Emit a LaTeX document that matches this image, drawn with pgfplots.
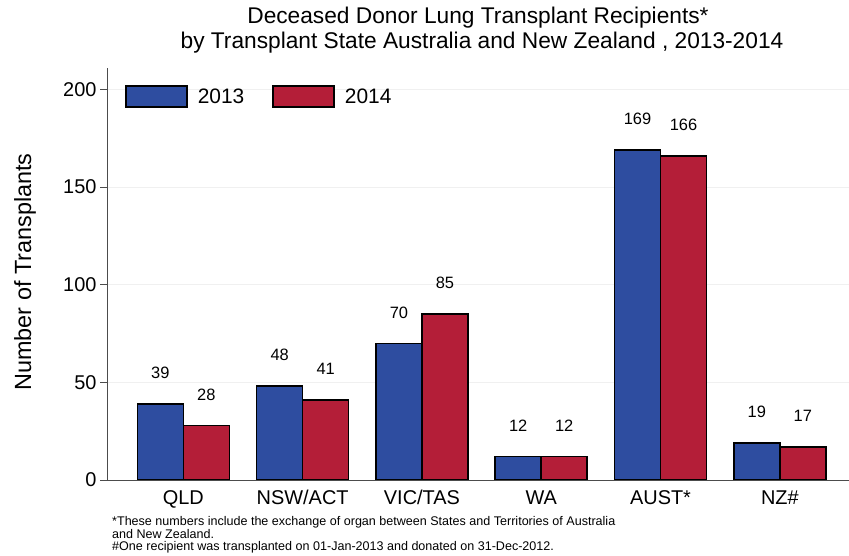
\documentclass[border=0pt]{standalone}
\usepackage{pgfplots}
\pgfplotsset{compat=1.18}
\usepackage{fontspec}
\setmainfont{Liberation Sans}
\definecolor{bblue}{RGB}{46,77,160}
\definecolor{rred}{RGB}{180,30,56}
\begin{document}
\begin{tikzpicture}[x=1bp,y=1bp]
\useasboundingbox (0,0) rectangle (849,556);
\begin{axis}[
  at={(107bp,76bp)}, anchor=south west,
  scale only axis, width=742bp, height=412bp,
  xmin=-0.64, xmax=5.58, ymin=0, ymax=211,
  axis lines*=left,
  axis line style={black!70, line width=0.8bp},
  ybar=0pt, bar width=46bp,
  xtick={0,1,2,3,4,5},
  xticklabels={QLD,NSW/ACT,VIC/TAS,WA,AUST*,NZ\#},
  ytick={0,50,100,150,200},
  /pgf/number format/assume math mode=true,
  tick label style={font=\fontsize{20}{20}\selectfont},
  x tick style={draw=none},
  y tick style={black!70, line width=0.8bp},
  tick align=outside, major tick length=7bp,
  ymajorgrids, grid style={black!6, line width=0.6bp},
  nodes near coords,
  every node near coord/.append style={font=\fontsize{16.5}{16.5}\selectfont, yshift=21bp, black},
  legend columns=2,
  legend image code/.code={\draw[#1, line width=1.6bp] (0bp,-10.5bp) rectangle (61bp,10.5bp);},
  legend style={draw=none, fill=none, at={(15bp,397bp)}, anchor=north west,
    font=\fontsize{21}{21}\selectfont,
    /tikz/every odd column/.append style={column sep=8bp},
    /tikz/every even column/.append style={column sep=26bp}},
]
\addplot[fill=bblue, draw=black, line width=1.6bp] coordinates {(0,39) (1,48) (2,70) (3,12) (4,169) (5,19)};
\addplot[fill=rred, draw=black, line width=1.6bp] coordinates {(0,28) (1,41) (2,85) (3,12) (4,166) (5,17)};
\legend{2013,2014}
\end{axis}
\node[font=\fontsize{22.8}{22.8}\selectfont] at (478,538) {Deceased Donor Lung Transplant Recipients*};
\node[font=\fontsize{22.8}{22.8}\selectfont] at (482,513) {by Transplant State Australia and New Zealand , 2013-2014};
\node[font=\fontsize{23.5}{23.5}\selectfont, rotate=90] at (25,284) {Number of Transplants};
\node[font=\fontsize{12.6}{12.6}\selectfont, anchor=west, inner sep=0pt] at (112,34) {*These numbers include the exchange of organ between States and Territories of Australia};
\node[font=\fontsize{12.6}{12.6}\selectfont, anchor=west, inner sep=0pt] at (112,21.5) {and New Zealand.};
\node[font=\fontsize{12.6}{12.6}\selectfont, anchor=west, inner sep=0pt] at (112,8.5) {\#One recipient was transplanted on 01-Jan-2013 and donated on 31-Dec-2012.};
\end{tikzpicture}
\end{document}
